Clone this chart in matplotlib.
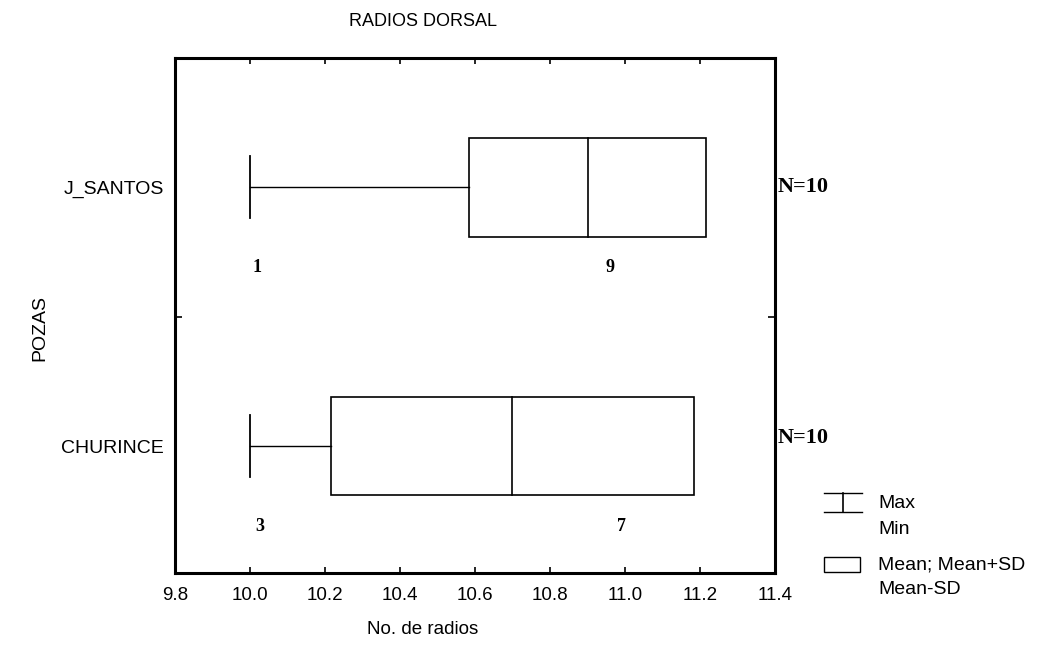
import matplotlib
matplotlib.use("Agg")
import matplotlib.pyplot as plt
import matplotlib.patches as mpatches

plt.rcParams['font.family'] = ['Liberation Sans', 'DejaVu Sans']

# datos por poza
groups = ['CHURINCE', 'J_SANTOS']
means = [10.7, 10.9]
sds = [0.483, 0.316]
mins = [10.0, 10.0]
maxs = [11.0, 11.0]
n_obs = [10, 10]
# frecuencia de cada valor observado
freq_values = [10.0, 11.0]
freq_counts = [[3, 7], [1, 9]]

xticks = [9.8, 10.0, 10.2, 10.4, 10.6, 10.8, 11.0, 11.2, 11.4]

W, H = 1042, 649
fig = plt.figure(figsize=(W / 100, H / 100), dpi=100)
ax = fig.add_axes([175 / W, 1 - 573 / H, 600 / W, 515 / H])

box_h = 0.38
cap_h = 0.24
serif = ['Liberation Serif', 'DejaVu Serif']
n_offset = [0.03, 0.0]
count_dx = [[0.025, -0.01], [0.02, -0.04]]

for i, g in enumerate(groups):
    lo = means[i] - sds[i]
    hi = means[i] + sds[i]
    ax.add_patch(mpatches.Rectangle((lo, i - box_h / 2), hi - lo, box_h,
                                    facecolor='white', edgecolor='black', lw=1.2))
    ax.plot([means[i], means[i]], [i - box_h / 2, i + box_h / 2], color='black', lw=1.2)
    # bigotes
    if mins[i] < lo:
        ax.plot([mins[i], lo], [i, i], color='black', lw=1.0)
    ax.plot([mins[i], mins[i]], [i - cap_h / 2, i + cap_h / 2], color='black', lw=1.3)
    if maxs[i] > hi:
        ax.plot([hi, maxs[i]], [i, i], color='black', lw=1.0)
        ax.plot([maxs[i], maxs[i]], [i - cap_h / 2, i + cap_h / 2], color='black', lw=1.3)
    for j, (v, c) in enumerate(zip(freq_values, freq_counts[i])):
        ax.text(v + count_dx[i][j], i - 0.31, str(c), ha='center', va='center',
                fontsize=13, fontweight='bold', family=serif)
    ax.text(11.408, i + n_offset[i], f"N={n_obs[i]}", ha='left', va='center',
            fontsize=16, fontweight='bold', family=serif, clip_on=False)

ax.set_xlim(9.8, 11.4)
ax.set_ylim(-0.49, 1.5)
ax.set_xticks(xticks)
ax.set_xticklabels([f"{t:.1f}" for t in xticks], fontsize=13.5)
ax.set_yticks([0, 1])
ax.set_yticklabels(groups, fontsize=14)
ax.set_yticks([0.5], minor=True)
ax.tick_params(axis='y', which='major', length=0, pad=8)
ax.tick_params(axis='y', which='minor', direction='in', length=5, left=True, right=True,
               width=1.2)
ax.tick_params(axis='x', direction='in', length=4, top=True, bottom=True, pad=10,
               width=1.2)
for s in ax.spines.values():
    s.set_linewidth(2.2)

fig.text(423 / W, 1 - 22 / H, "RADIOS DORSAL", ha='center', va='center', fontsize=13)
fig.text(423 / W, 1 - 630 / H, "No. de radios", ha='center', va='center', fontsize=13.5)
fig.text(40 / W, 1 - 328 / H, "POZAS", ha='center', va='center', fontsize=14,
         rotation=90)

# leyenda
lg = fig.add_axes([0, 0, 1, 1], facecolor='none')
lg.set_xlim(0, W)
lg.set_ylim(H, 0)
lg.axis('off')
lg.plot([824, 862], [493, 493], color='black', lw=1.0)
lg.plot([824, 862], [512, 512], color='black', lw=1.0)
lg.plot([843, 843], [493, 512], color='black', lw=1.2)
lg.add_patch(mpatches.Rectangle((824, 557), 36, 15, facecolor='white',
                                edgecolor='black', lw=1.0))
lg.text(878, 503, "Max", ha='left', va='center', fontsize=14)
lg.text(878, 530, "Min", ha='left', va='center', fontsize=14)
lg.text(878, 565, "Mean; Mean+SD", ha='left', va='center', fontsize=14)
lg.text(878, 590, "Mean-SD", ha='left', va='center', fontsize=14)

fig.savefig("out.png", dpi=100)
